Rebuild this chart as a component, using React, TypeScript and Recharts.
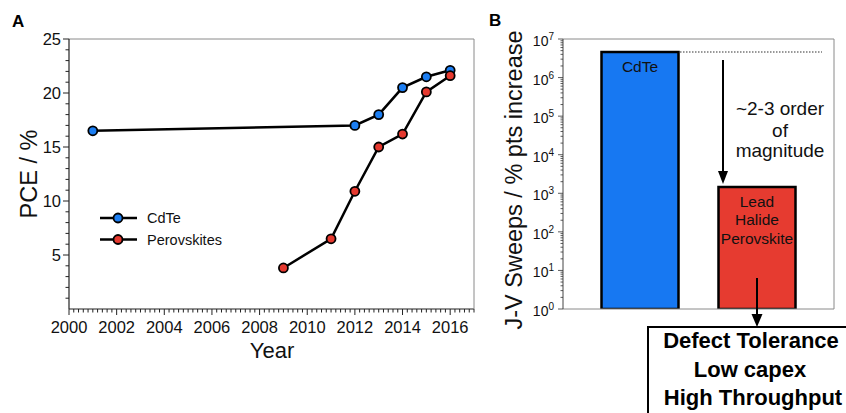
import React from "react"
import { LineChart, Line, XAxis, YAxis, Legend, BarChart, Bar, Cell, LabelList } from "recharts"

const FONT = '"Liberation Sans", Arial, sans-serif'

// panel A
const cdteYears = [2001, 2012, 2013, 2014, 2015, 2016]
const cdtePce = [16.5, 17.0, 18.0, 20.5, 21.5, 22.1]
const perovYears = [2009, 2011, 2012, 2013, 2014, 2015, 2016]
const perovPce = [3.8, 6.5, 10.9, 15.0, 16.2, 20.1, 21.6]
const yearTicks = [2000, 2002, 2004, 2006, 2008, 2010, 2012, 2014, 2016]
const pceTicks = [5, 10, 15, 20, 25]
const seriesNames = ["CdTe", "Perovskites"]
const seriesColors = ["#1c7ef2", "#e5392f"]

// panel B
const barNames = ["CdTe", "Lead Halide Perovskite"]
const barSweeps = [4.6e6, 1.45e3]
const barColors = ["#1778f2", "#e63b30"]
const decadeTicks = [1, 10, 100, 1e3, 1e4, 1e5, 1e6, 1e7]

const cdteData = cdteYears.map((year, i) => ({ year, pce: cdtePce[i] }))
const perovData = perovYears.map((year, i) => ({ year, pce: perovPce[i] }))
const barData = barNames.map((name, i) => ({ name, value: barSweeps[i] }))

// minor ticks (major ones get labels in the tick renderers)
const yearMinor: number[] = []
for (let i = 0; i <= 85; i++) yearMinor.push(Math.round((2000 + i * 0.2) * 10) / 10)
const pceMinor: number[] = []
for (let v = 1; v <= 25; v++) pceMinor.push(v)
const logMinor: number[] = []
decadeTicks.slice(0, -1).forEach((d) => {
  for (let m = 1; m <= 9; m++) logMinor.push(m * d)
})
logMinor.push(1e7)

function YearTick({ x, y, payload }: any) {
  const major = yearTicks.includes(payload.value)
  return (
    <g>
      <line x1={x} x2={x} y1={y} y2={y + (major ? 6 : 3.5)} stroke="#222" />
      {major && (
        <text x={x} y={y + 24} textAnchor="middle" fontSize={16.5} fontFamily={FONT} fill="#111">
          {payload.value}
        </text>
      )}
    </g>
  )
}

function PceTick({ x, y, payload }: any) {
  const major = pceTicks.includes(payload.value)
  return (
    <g>
      <line x1={x} x2={x - (major ? 6 : 3.5)} y1={y} y2={y} stroke="#222" />
      {major && (
        <text x={x - 8} y={y + 6} textAnchor="end" fontSize={16.5} fontFamily={FONT} fill="#111">
          {payload.value}
        </text>
      )}
    </g>
  )
}

function LogTick({ x, y, payload }: any) {
  const exp = Math.log10(payload.value)
  const major = Math.abs(exp - Math.round(exp)) < 1e-9
  return (
    <g>
      <line x1={x} x2={x - (major ? 5 : 2.5)} y1={y} y2={y} stroke="#333" strokeWidth={0.8} />
      {major && (
        <text x={x - 9} y={y + 7} textAnchor="end" fontSize={14} fontFamily={FONT} fill="#111">
          10
          <tspan fontSize={10} dy={-6}>
            {Math.round(exp)}
          </tspan>
        </text>
      )}
    </g>
  )
}

function LegendBox() {
  return (
    <svg width={150} height={50}>
      {seriesNames.map((n, i) => (
        <g key={n} transform={`translate(0, ${10 + i * 21.5})`}>
          <line x1={5} x2={42} y1={0} y2={0} stroke="#000" strokeWidth={2.5} />
          <circle cx={23} cy={0} r={4.5} fill={seriesColors[i]} stroke="#000" strokeWidth={1.8} />
          <text x={52} y={5} fontSize={14.5} fontFamily={FONT} fill="#111">
            {n}
          </text>
        </g>
      ))}
    </svg>
  )
}

function BarName({ x, y, width, value }: any) {
  const words = String(value).split(" ")
  return (
    <g>
      {words.map((w, i) => (
        <text
          key={i}
          x={x + width / 2}
          y={y + 19.5 + i * 18.5}
          textAnchor="middle"
          fontSize={15.5}
          fontFamily={FONT}
          fill="#111"
        >
          {w}
        </text>
      ))}
    </g>
  )
}

export default function App() {
  return (
    <div style={{ position: "absolute", left: 0, top: 0, width: 846, height: 413, background: "#fff", fontFamily: FONT, overflow: "hidden" }}>
      <div style={{ position: "absolute", left: 0, top: 0 }}>
        <LineChart width={480} height={413} margin={{ top: 38, right: 5, bottom: 103, left: 0 }}>
          <XAxis
            dataKey="year"
            type="number"
            domain={[2000, 2017]}
            ticks={yearMinor}
            interval={0}
            height={1}
            tickSize={0}
            tickMargin={0}
            tickLine={false}
            tick={<YearTick />}
            axisLine={{ stroke: "#222", strokeWidth: 1.2 }}
          />
          <XAxis xAxisId="top" orientation="top" type="number" domain={[0, 1]} height={1} tick={false} tickLine={false} axisLine={{ stroke: "#8a8a8a" }} />
          <YAxis
            type="number"
            domain={[0, 25]}
            ticks={pceMinor}
            interval={0}
            width={69}
            tickSize={0}
            tickMargin={0}
            tickLine={false}
            tick={<PceTick />}
            axisLine={{ stroke: "#222", strokeWidth: 1.2 }}
          />
          <YAxis yAxisId="right" orientation="right" type="number" domain={[0, 1]} width={1} tick={false} tickLine={false} axisLine={{ stroke: "#8a8a8a" }} />
          <Legend
            layout="vertical"
            align="center"
            verticalAlign="middle"
            content={() => <LegendBox />}
            wrapperStyle={{ position: "absolute", left: 95, top: 208, width: 150, height: 50 }}
          />
          <Line
            data={cdteData}
            dataKey="pce"
            name={seriesNames[0]}
            type="linear"
            stroke="#000"
            strokeWidth={2.5}
            dot={{ r: 4.5, fill: seriesColors[0], stroke: "#000", strokeWidth: 1.8 }}
            isAnimationActive={false}
          />
          <Line
            data={perovData}
            dataKey="pce"
            name={seriesNames[1]}
            type="linear"
            stroke="#000"
            strokeWidth={2.5}
            dot={{ r: 4.5, fill: seriesColors[1], stroke: "#000", strokeWidth: 1.8 }}
            isAnimationActive={false}
          />
        </LineChart>
      </div>

      <div style={{ position: "absolute", left: 480, top: 0 }}>
        <BarChart width={366} height={413} data={barData} margin={{ top: 38, right: 11, bottom: 103, left: 0 }}>
          <XAxis
            dataKey="name"
            type="category"
            height={1}
            tick={false}
            tickLine={false}
            padding={{ left: 18.5, right: 18.5 }}
            axisLine={{ stroke: "#8a8a8a" }}
          />
          <XAxis xAxisId="top" orientation="top" type="number" domain={[0, 1]} height={1} tick={false} tickLine={false} axisLine={{ stroke: "#8a8a8a" }} />
          <YAxis
            scale="log"
            type="number"
            domain={[1, 1e7]}
            allowDataOverflow
            ticks={logMinor}
            interval={0}
            width={83}
            tickSize={0}
            tickMargin={0}
            tickLine={false}
            tick={<LogTick />}
            axisLine={{ stroke: "#444" }}
          />
          <YAxis yAxisId="right" orientation="right" type="number" domain={[0, 1]} width={1} tick={false} tickLine={false} axisLine={{ stroke: "#8a8a8a" }} />
          <Bar dataKey="value" barSize={77} stroke="#000" strokeWidth={2.5} isAnimationActive={false}>
            {barData.map((d, i) => (
              <Cell key={d.name} fill={barColors[i]} />
            ))}
            <LabelList dataKey="name" content={<BarName />} />
          </Bar>
        </BarChart>
      </div>

      <svg width={846} height={413} style={{ position: "absolute", left: 0, top: 0, pointerEvents: "none" }} fontFamily={FONT}>
        <text x={12} y={27} fontSize={17} fontWeight="bold" fill="#000">A</text>
        <text x={489} y={26} fontSize={17} fontWeight="bold" fill="#000">B</text>
        <text transform="translate(37,174) rotate(-90)" textAnchor="middle" fontSize={23.5} fill="#111">PCE / %</text>
        <text x={272} y={358} textAnchor="middle" fontSize={22} fill="#111">Year</text>
        <text transform="translate(522,180) rotate(-90)" textAnchor="middle" fontSize={23.5} fill="#111">J-V Sweeps / % pts increase</text>

        <line x1={680} x2={822} y1={52} y2={52} stroke="#333" strokeWidth={1.2} strokeDasharray="1.5 1.5" />
        <line x1={723} x2={723} y1={60} y2={175} stroke="#000" strokeWidth={2} />
        <path d="M718,171 L728,171 L723,184 Z" fill="#000" />
        <text x={780} y={115} textAnchor="middle" fontSize={19} fill="#111">~2-3 order</text>
        <text x={780} y={137} textAnchor="middle" fontSize={19} fill="#111">of</text>
        <text x={780} y={157} textAnchor="middle" fontSize={19} fill="#111">magnitude</text>

        <line x1={757} x2={757} y1={278} y2={316} stroke="#000" strokeWidth={2} />
        <path d="M751.5,314 L762.5,314 L757,327 Z" fill="#000" />
        <rect x={648} y={327} width={300} height={120} fill="#fff" stroke="#000" strokeWidth={2} />
        <text x={751} y={348} textAnchor="middle" fontSize={22} fontWeight="bold" fill="#000">Defect Tolerance</text>
        <text x={750} y={377} textAnchor="middle" fontSize={22} fontWeight="bold" fill="#000">Low capex</text>
        <text x={753} y={405} textAnchor="middle" fontSize={22} fontWeight="bold" fill="#000">High Throughput</text>
      </svg>
    </div>
  )
}
